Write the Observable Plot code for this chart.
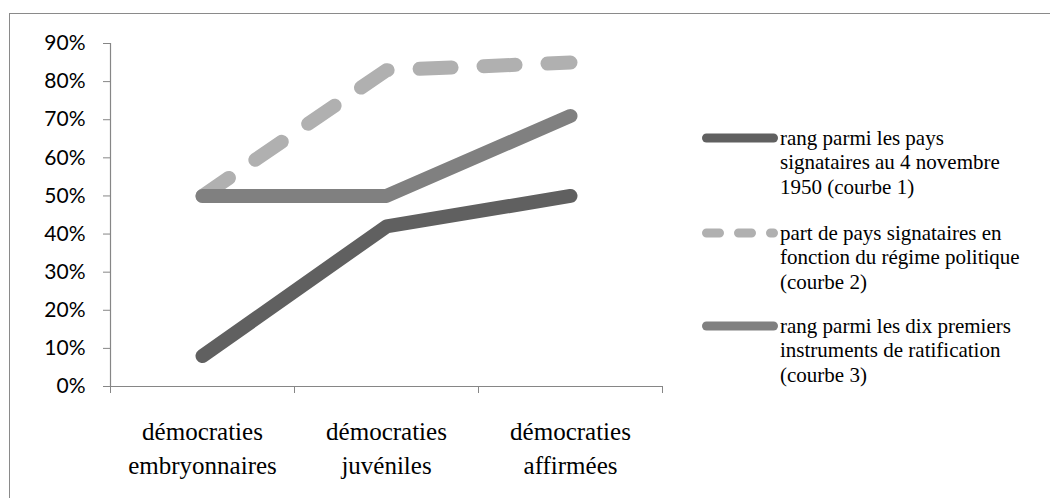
<!DOCTYPE html>
<html>
<head>
<meta charset="utf-8">
<script src="https://cdn.jsdelivr.net/npm/d3@7"></script>
<script src="https://cdn.jsdelivr.net/npm/@observablehq/plot@0.6"></script>
<style>
  html, body { margin: 0; padding: 0; background: #fff; overflow: hidden; }
  #wrap { position: relative; width: 1050px; height: 498px; overflow: hidden; }
  #frame { position: absolute; left: 9px; top: 13px; width: 1200px; height: 700px;
           border-left: 1px solid #8a8a8a; border-top: 1px solid #8a8a8a; }
  #chart, #legend { position: absolute; left: 0; top: 0; }
</style>
</head>
<body>
<div id="wrap">
  <div id="frame"></div>
  <div id="chart"></div>
  <svg id="legend" width="1050" height="498"></svg>
</div>
<script>
const categories = ["démocraties\nembryonnaires", "démocraties\njuvéniles", "démocraties\naffirmées"];
const courbe1 = [0.08, 0.42, 0.50];
const courbe2 = [0.50, 0.83, 0.85];
const courbe3 = [0.50, 0.50, 0.71];
const yTicks = [0, 0.1, 0.2, 0.3, 0.4, 0.5, 0.6, 0.7, 0.8, 0.9];
const xBoundaries = [0, 1, 2, 3];
const seriesNames = [
  "rang parmi les pays\nsignataires au 4 novembre\n1950 (courbe 1)",
  "part de pays signataires en\nfonction du régime politique\n(courbe 2)",
  "rang parmi les dix premiers\ninstruments de ratification\n(courbe 3)"
];
const colors = ["#606060", "#b0b0b0", "#808080"];

const series = [courbe1, courbe2, courbe3];
const rows = series.map((vals, s) => vals.map((v, i) => ({serie: s, x: i + 0.5, value: v})));

const serif = "'Liberation Serif', 'Times New Roman', serif";
const sans = "Lato, 'Open Sans', sans-serif";

const chart = Plot.plot({
  width: 1050,
  height: 498,
  marginLeft: 110,
  marginRight: 388,
  marginTop: 43,
  marginBottom: 112,
  style: {background: "transparent", overflow: "visible"},
  x: {domain: [0, 3]},
  y: {domain: [0, 0.9]},
  marks: [
    Plot.axisY({ticks: yTicks, tickFormat: d3.format(".0%"), tickSize: 7, tickPadding: 18,
                stroke: "#868686", fill: "#000", fontSize: 21, fontFamily: sans, label: null}),
    Plot.axisX({ticks: xBoundaries, tickFormat: () => "", tickSize: 7, stroke: "#868686", label: null}),
    Plot.ruleX([0], {y1: 0, y2: 0.9, stroke: "#868686", strokeWidth: 1.2}),
    Plot.ruleY([0], {x1: 0, x2: 3, stroke: "#868686", strokeWidth: 1.2}),
    Plot.text(categories, {x: (d, i) => i + 0.5, y: 0, text: d => d, dy: 60, lineAnchor: "middle",
                           lineHeight: 1.36, fontSize: 25, fontFamily: serif, fill: "#000"}),
    Plot.line(rows[0], {x: "x", y: "value", stroke: colors[0], strokeWidth: 14,
                        strokeLinecap: "round", strokeLinejoin: "round"}),
    Plot.line(rows[1], {x: "x", y: "value", stroke: colors[1], strokeWidth: 14,
                        strokeLinecap: "round", strokeLinejoin: "round", strokeDasharray: "32,32"}),
    Plot.line(rows[2], {x: "x", y: "value", stroke: colors[2], strokeWidth: 14,
                        strokeLinecap: "round", strokeLinejoin: "round"})
  ]
});
document.getElementById("chart").appendChild(chart);

// Legend
const lg = d3.select("#legend");
const groupY = [138, 233, 326];
const lineH = 24.5;
seriesNames.forEach((name, s) => {
  const y = groupY[s];
  lg.append("line").attr("x1", 706.5).attr("x2", 773.5).attr("y1", y).attr("y2", y)
    .attr("stroke", colors[s]).attr("stroke-width", 9).attr("stroke-linecap", "round")
    .attr("stroke-dasharray", s === 1 ? "13,19" : null);
  const t = lg.append("text").attr("x", 780).attr("y", y)
    .style("font-family", serif).attr("font-size", 21).attr("fill", "#000");
  name.split("\n").forEach((ln, k) => {
    t.append("tspan").attr("x", 780).attr("y", y + k * lineH).attr("dy", "0.32em").text(ln);
  });
});
</script>
</body>
</html>
